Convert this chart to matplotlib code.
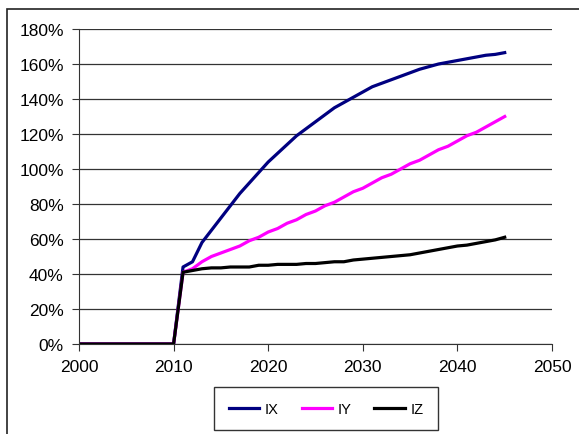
import numpy as np
import matplotlib
matplotlib.use("Agg")
import matplotlib.pyplot as plt
from matplotlib.patches import Rectangle
from matplotlib.ticker import PercentFormatter

plt.rcParams['font.family'] = ['Liberation Sans', 'DejaVu Sans']

years = list(range(2000, 2046))
# values in percent
ix = [0] * 11 + [44, 47, 58, 65, 72, 79, 86, 92, 98, 104,
                 109, 114, 119, 123, 127, 131, 135, 138, 141, 144,
                 147, 149, 151, 153, 155, 157, 158.5, 160, 161, 162,
                 163, 164, 165, 165.5, 166.5]
iy = [0] * 11 + [41, 43, 47, 50, 52, 54, 56, 59, 61, 64,
                 66, 69, 71, 74, 76, 79, 81, 84, 87, 89,
                 92, 95, 97, 100, 103, 105, 108, 111, 113, 116,
                 119, 121, 124, 127, 130]
iz = [0] * 11 + [41, 42, 43, 43.5, 43.5, 44, 44, 44, 45, 45,
                 45.5, 45.5, 45.5, 46, 46, 46.5, 47, 47, 48, 48.5,
                 49, 49.5, 50, 50.5, 51, 52, 53, 54, 55, 56,
                 56.5, 57.5, 58.5, 59.5, 61]

fig = plt.figure(figsize=(5.79, 4.35), dpi=100)
ax = fig.add_axes([0.1364, 0.2069, 0.817, 0.7241])

# outer chart frame (cut off at right and bottom)
fig.patches.append(Rectangle((7 / 579, -0.1), 1.2, 1 - 10 / 435 + 0.1,
                             transform=fig.transFigure, fill=False,
                             edgecolor='#222222', linewidth=1.2))

ax.plot(years, ix, color='#000080', lw=2.3, label='IX')
ax.plot(years, iy, color='#FF00FF', lw=2.3, label='IY')
ax.plot(years, iz, color='#000000', lw=2.3, label='IZ')

ax.set_xlim(2000, 2050)
ax.set_ylim(0, 180)
ax.set_xticks(range(2000, 2051, 10))
ax.set_yticks(range(0, 181, 20))
ax.yaxis.set_major_formatter(PercentFormatter(decimals=0))
ax.grid(axis='y', color='#333333', lw=0.9)
ax.set_axisbelow(True)
for s in ['top', 'right']:
    ax.spines[s].set_visible(False)
for s in ['left', 'bottom']:
    ax.spines[s].set_color('#333333')
ax.tick_params(labelsize=12.5, length=5, color='#333333', pad=6)

leg = fig.legend(loc='center', bbox_to_anchor=(0.563, 0.058), ncol=3,
                 frameon=True, fancybox=False, fontsize=10.5,
                 handlelength=2.1, handletextpad=0.35, columnspacing=1.6,
                 borderpad=1.0, borderaxespad=0)
leg.get_frame().set_edgecolor('black')
leg.get_frame().set_linewidth(1)

fig.savefig('out.png', dpi=100)
